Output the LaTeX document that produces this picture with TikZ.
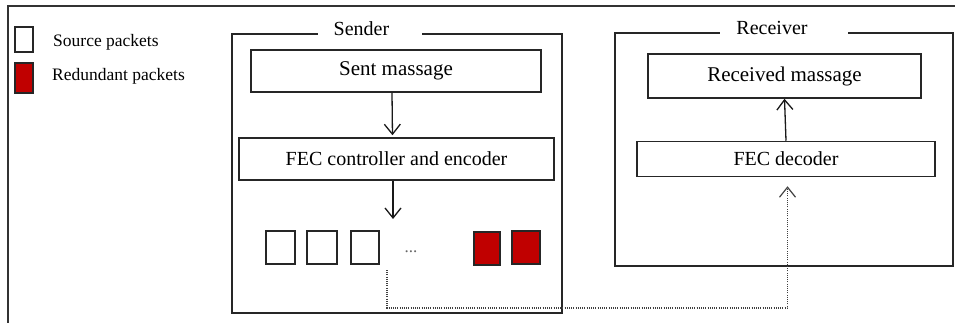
\documentclass[tikz,border=0pt]{standalone}
\usepackage{fontspec}
\setmainfont{Liberation Serif}
\newfontfamily\tnr{Liberation Serif}
\usetikzlibrary{arrows.meta}
\definecolor{redpk}{HTML}{C00000}
\newcommand\myfs[1]{\tnr\fontsize{#1}{#1}\selectfont}
\begin{document}
\begin{tikzpicture}[x=1pt,y=-1pt,
  frame/.style={draw=black!85, line width=1.6pt, inner sep=0pt},
  box/.style={draw=black!85, line width=1.5pt, inner sep=0pt},
  pk/.style={draw=black!85, line width=1.5pt, minimum width=28pt, minimum height=33pt, inner sep=0pt},
  srcpk/.style={pk, fill=white},
  redpkt/.style={pk, fill=redpk},
  arr/.style={-{Straight Barb[length=10pt,width=16pt,line width=1.3pt]}, line width=1.3pt, draw=black!90},
  dotline/.style={line width=1.1pt, draw=black!75, dash pattern=on 1pt off 1.2pt,
     -{Straight Barb[length=10pt,width=16pt,line width=1.2pt]}},
  gap/.style={fill=white, inner sep=0pt, minimum height=8pt},
  title/.style={anchor=base, inner sep=0pt, font=\myfs{20}},
  lgtext/.style={anchor=west, inner sep=0pt, font=\myfs{17.5}}
]
\useasboundingbox (0,0) rectangle (955,323);
\fill[white] (0,0) rectangle (955,323);

% outer frame (clipped on right and bottom)
\draw[line width=2pt, draw=black!80] (8,323) -- (8,6) -- (955,6);

% legend
\node[srcpk, minimum width=18pt, minimum height=25pt] (lsrc) at (24,39.5) {};
\node[redpkt, minimum width=18pt, minimum height=30pt] (lred) at (24,78) {};
\node[lgtext] (lsrct) at (53,42) {Source packets};
\node[lgtext] (lredt) at (52,76) {Redundant packets};

% sender
\node[frame, minimum width=330pt, minimum height=279pt] (sender) at (397,173.5) {};
\node[gap, minimum width=104pt] (sgap) at (370,34) {};
\node[title] (sendert) at (361.5,36) {Sender};
\node[box, minimum width=290pt, minimum height=42pt, font=\myfs{21}] (sent) at (396,71) {Sent massage};
\node[box, minimum width=315pt, minimum height=42pt, font=\myfs{20}] (fec) at (396.5,159) {FEC controller and encoder};
\draw[arr, shorten >=2pt] ([xshift=-4pt]sent.south) -- ([xshift=-4pt]fec.north);
\coordinate (pkin) at (393,219);
\draw[arr] (fec.south -| pkin) -- (pkin);

\node[srcpk, minimum width=29pt] (p1) at (280.5,247.5) {};
\node[srcpk, minimum width=30pt] (p2) at (322,247.5) {};
\node[srcpk] (p3) at (365,247.5) {};
\node[anchor=base, inner sep=0pt, font=\myfs{17}, text=black!60] (dots) at (411,252) {...};
\node[redpkt, minimum width=26pt] (r1) at (487,248.5) {};
\node[redpkt] (r2) at (526,247.5) {};

% receiver
\node[frame, minimum width=338pt, minimum height=233pt] (recv) at (784,149.5) {};
\node[gap, minimum width=128pt] (rgap) at (784,33) {};
\node[title] (recvt) at (772,35) {Receiver};
\node[box, minimum width=273pt, minimum height=44pt, font=\myfs{21}] (rcvd) at (784.5,76) {Received massage};
\node[box, minimum width=298pt, minimum height=35pt, font=\myfs{20}] (dec) at (786,159) {FEC decoder};
\draw[arr] (dec.north) -- (rcvd.south);

% dotted transmission path
\coordinate (dstart) at (387,270);
\coordinate (dlow) at (787.5,308);
\draw[dotline, shorten >=9pt] (dstart) |- (dlow) -- (dlow |- dec.south);
\end{tikzpicture}
\end{document}
